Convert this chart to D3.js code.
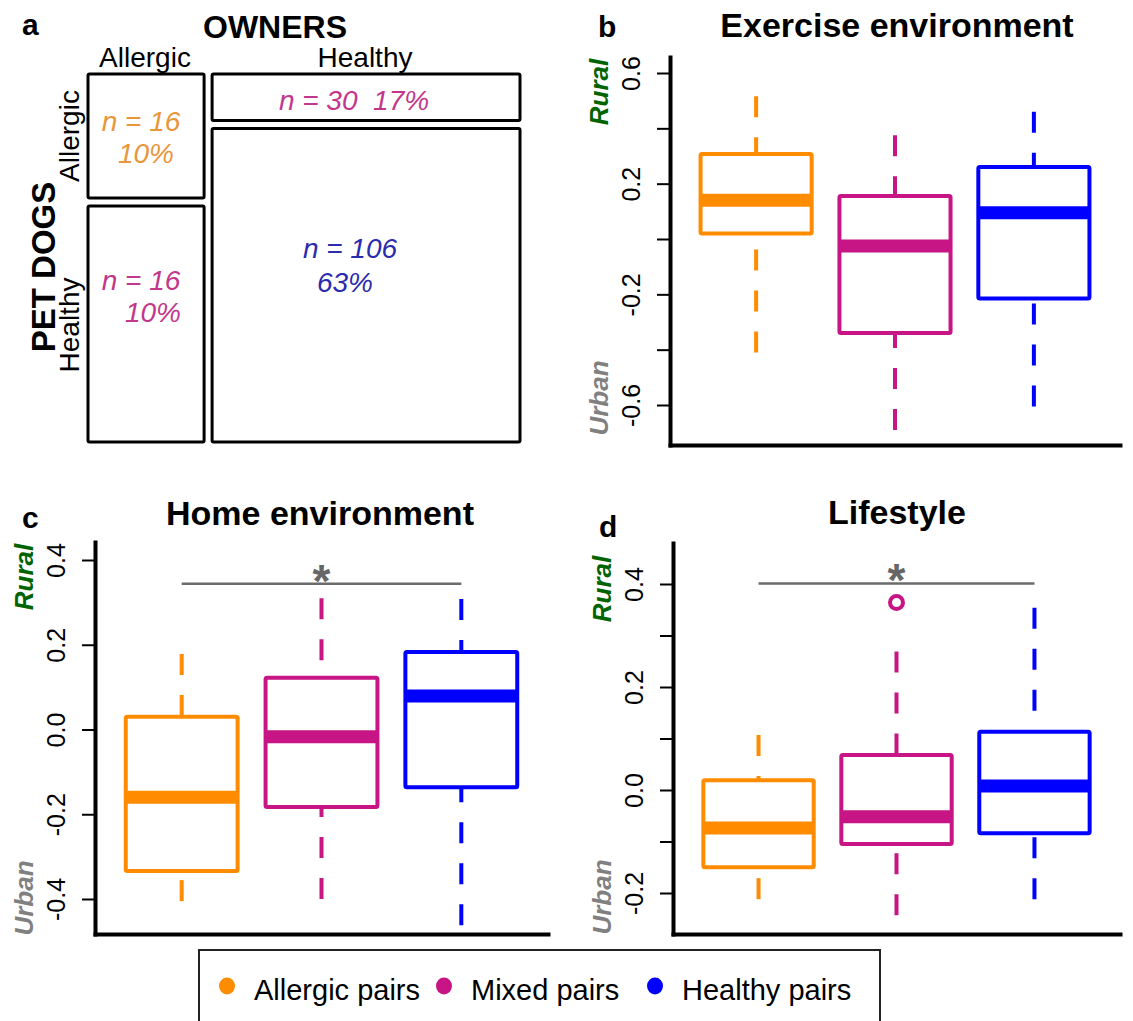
<!DOCTYPE html>
<html lang="en">
<head>
<meta charset="UTF-8">
<title>Pet dogs and owners: environment and lifestyle</title>
<script src="https://d3js.org/d3.v7.min.js"></script>
<style>
  body { margin: 0; background: #fff; }
  svg text { font-family: "Liberation Sans", Arial, sans-serif; }
  .axis .domain { stroke: #000; stroke-width: 4; stroke-linecap: square; }
  .axis .tick line { stroke: #000; stroke-width: 2; }
</style>
</head>
<body>
<div id="chart"></div>
<script>
// ---- data ----
const groups = ["Allergic pairs", "Mixed pairs", "Healthy pairs"];
const groupColors = ["#ff8c00", "#c71585", "#0000ff"];

// panel a: owners x pet dogs
const ownerLevels = ["Allergic", "Healthy"];
const dogLevels = ["Allergic", "Healthy"];
const cellCounts = [16, 16, 30, 106];          // owner/dog: A/A, A/H, H/A, H/H
const cellPercents = ["10%", "10%", "17%", "63%"];

// box stats per group: [lower whisker, q1, median, q3, upper whisker]
const exerciseStats = [
  [-0.41, 0.02, 0.14, 0.307, 0.516],
  [-0.69, -0.34, -0.025, 0.155, 0.375],
  [-0.605, -0.215, 0.095, 0.26, 0.46]
];
const homeStats = [
  [-0.405, -0.334, -0.16, 0.03, 0.178],
  [-0.40, -0.183, -0.017, 0.122, 0.31],
  [-0.462, -0.136, 0.079, 0.183, 0.308]
];
const lifestyleStats = [
  [-0.212, -0.15, -0.074, 0.019, 0.107],
  [-0.243, -0.105, -0.052, 0.068, 0.269],
  [-0.212, -0.084, 0.008, 0.113, 0.354]
];
const lifestyleOutliers = [[], [0.364], []];

// significance bars: [from group, to group, height]
const homeSig = [[1, 3, 0.344]];
const lifestyleSig = [[1, 3, 0.401]];

// ticks
const exerciseTicks = [-0.6, -0.4, -0.2, 0, 0.2, 0.4, 0.6];
const exerciseLabels = [-0.6, -0.2, 0.2, 0.6];
const homeTicks = [-0.4, -0.2, 0, 0.2, 0.4];
const homeLabels = [-0.4, -0.2, 0, 0.2, 0.4];
const lifestyleTicks = [-0.2, -0.1, 0, 0.1, 0.2, 0.3, 0.4];
const lifestyleLabels = [-0.2, 0, 0.2, 0.4];

// ---- drawing ----
const W = 1133, H = 1021;
const svg = d3.select("#chart").append("svg")
  .attr("width", W).attr("height", H);

const fmt = d => (Math.abs(d) < 1e-9 ? 0 : d).toFixed(1);

function boxPanel(cfg) {
  const g = svg.append("g");
  const x = d3.scaleLinear().domain([0.38, 3.62]).range([cfg.left, cfg.right]);
  const yRef = d3.scaleLinear().domain(cfg.refVals).range(cfg.refPx);
  const y = d3.scaleLinear()
    .domain([yRef.invert(cfg.bottom), yRef.invert(cfg.top)])
    .range([cfg.bottom, cfg.top]);

  // axes
  const ya = g.append("g").attr("class", "axis")
    .attr("transform", `translate(${cfg.left},0)`)
    .call(d3.axisLeft(y).tickValues(cfg.ticks).tickSizeInner(13).tickSizeOuter(0)
      .tickFormat(d => cfg.labels.some(v => Math.abs(v - d) < 1e-9) ? fmt(d) : ""));
  ya.selectAll(".tick text")
    .attr("transform", "rotate(-90)")
    .attr("x", 0).attr("y", -30).attr("dy", 0)
    .attr("text-anchor", "middle")
    .style("font-size", "25px").style("font-family", "Liberation Sans, Arial, sans-serif")
    .attr("fill", "#000");

  g.append("g").attr("class", "axis")
    .attr("transform", `translate(0,${cfg.bottom})`)
    .call(d3.axisBottom(x).tickValues([]).tickSizeOuter(0));

  // boxes
  cfg.stats.forEach((s, i) => {
    const c = groupColors[i];
    const cx = x(i + 1), x0 = x(i + 0.6), x1 = x(i + 1.4);
    g.append("line").attr("x1", cx).attr("x2", cx).attr("y1", y(s[0])).attr("y2", y(s[1]))
      .attr("stroke", c).attr("stroke-width", 4).attr("stroke-dasharray", "21,20");
    g.append("line").attr("x1", cx).attr("x2", cx).attr("y1", y(s[4])).attr("y2", y(s[3]))
      .attr("stroke", c).attr("stroke-width", 4).attr("stroke-dasharray", "21,20");
    g.append("rect").attr("x", x0).attr("y", y(s[3]))
      .attr("width", x1 - x0).attr("height", y(s[1]) - y(s[3]))
      .attr("fill", "#fff").attr("stroke", c).attr("stroke-width", 4)
      .attr("rx", 1.5);
    g.append("line").attr("x1", x0).attr("x2", x1).attr("y1", y(s[2])).attr("y2", y(s[2]))
      .attr("stroke", c).attr("stroke-width", 13);
  });

  // outliers
  if (cfg.outliers) {
    cfg.outliers.forEach((vals, i) => {
      g.selectAll(null).data(vals).join("circle")
        .attr("cx", x(i + 1)).attr("cy", d => y(d)).attr("r", 6.5)
        .attr("fill", "none").attr("stroke", groupColors[i]).attr("stroke-width", 4);
    });
  }

  // significance
  if (cfg.sig) {
    cfg.sig.forEach(([a, b, h]) => {
      g.append("line").attr("x1", x(a)).attr("x2", x(b)).attr("y1", y(h)).attr("y2", y(h))
        .attr("stroke", "#6b6b6b").attr("stroke-width", 2.5);
      g.append("text").attr("x", (x(a) + x(b)) / 2).attr("y", y(h) + 13)
        .attr("text-anchor", "middle").style("font-size", "46px").style("font-weight", "bold")
        .attr("fill", "#666").text("*");
    });
  }

  // titles and side labels
  g.append("text").attr("x", cfg.titleX).attr("y", cfg.titleY)
    .attr("text-anchor", "middle").style("font-size", "34px").style("font-weight", "bold")
    .text(cfg.title);
  g.append("text").attr("x", cfg.letter[0]).attr("y", cfg.letter[1])
    .style("font-size", "30px").style("font-weight", "bold").text(cfg.letterText);
  g.append("text").attr("transform", `translate(${cfg.left - 62},${cfg.ruralY}) rotate(-90)`)
    .attr("text-anchor", "middle").style("font-size", "26px").style("font-weight", "bold")
    .style("font-style", "italic").attr("fill", "#006400").text("Rural");
  g.append("text").attr("transform", `translate(${cfg.left - 62},${cfg.urbanY}) rotate(-90)`)
    .attr("text-anchor", "middle").style("font-size", "26px").style("font-weight", "bold")
    .style("font-style", "italic").attr("fill", "#808080").text("Urban");
}

boxPanel({
  left: 670, right: 1120, top: 57, bottom: 445,
  refVals: [-0.6, 0.6], refPx: [405, 73],
  ticks: exerciseTicks, labels: exerciseLabels, stats: exerciseStats,
  title: "Exercise environment", titleX: 897, titleY: 37,
  letterText: "b", letter: [598, 37], ruralY: 92, urbanY: 398
});
boxPanel({
  left: 95, right: 548, top: 542, bottom: 934,
  refVals: [-0.4, 0.4], refPx: [899, 560],
  ticks: homeTicks, labels: homeLabels, stats: homeStats, sig: homeSig,
  title: "Home environment", titleX: 320, titleY: 525,
  letterText: "c", letter: [22, 528], ruralY: 577, urbanY: 898
});
boxPanel({
  left: 673, right: 1120, top: 543, bottom: 934,
  refVals: [-0.2, 0.4], refPx: [893, 584],
  ticks: lifestyleTicks, labels: lifestyleLabels, stats: lifestyleStats,
  outliers: lifestyleOutliers, sig: lifestyleSig,
  title: "Lifestyle", titleX: 897, titleY: 524,
  letterText: "d", letter: [599, 537], ruralY: 589, urbanY: 897
});

// ---- panel a: mosaic ----
const ga = svg.append("g");
const xa = d3.scaleLinear().domain([0, 1]).range([88, 520]);
const yaS = d3.scaleLinear().domain([0, 1]).range([74, 442]);
const colSplit = 0.278, rowSplit = [0.348, 0.137], gap = 8;
const cellColors = ["#e8963a", "#c2378c", "#c2378c", "#2b2bae"];
// label lines per cell, built from counts and percents; anchors [x, y]
const cellAnchors = [
  [[141, 131], [146, 163]],
  [[141, 290], [153, 322]],
  [[354, 110]],
  [[350, 258], [345, 292]]
];
let k = 0;
ownerLevels.forEach((o, oi) => {
  const cx0 = oi === 0 ? xa(0) : xa(colSplit) + gap / 2;
  const cx1 = oi === 0 ? xa(colSplit) - gap / 2 : xa(1);
  dogLevels.forEach((dl, di) => {
    const s = rowSplit[oi];
    const cy0 = di === 0 ? yaS(0) : yaS(s) + gap / 2;
    const cy1 = di === 0 ? yaS(s) - gap / 2 : yaS(1);
    ga.append("rect").attr("x", cx0).attr("y", cy0)
      .attr("width", cx1 - cx0).attr("height", cy1 - cy0)
      .attr("fill", "none").attr("stroke", "#000").attr("stroke-width", 3).attr("rx", 1.5);
    const anchors = cellAnchors[k];
    const lines = anchors.length === 1
      ? [`n = ${cellCounts[k]}  ${cellPercents[k]}`]
      : [`n = ${cellCounts[k]}`, cellPercents[k]];
    lines.forEach((t, li) => {
      ga.append("text").attr("x", anchors[li][0]).attr("y", anchors[li][1])
        .attr("text-anchor", "middle")
        .style("font-size", "28px").style("font-style", "italic")
        .style("white-space", "pre").attr("fill", cellColors[k]).text(t);
    });
    k++;
  });
});
ga.append("text").attr("x", 22).attr("y", 35).style("font-size", "30px").style("font-weight", "bold").text("a");
ga.append("text").attr("x", 275).attr("y", 38).attr("text-anchor", "middle")
  .style("font-size", "32px").style("font-weight", "bold").text("OWNERS");
ga.append("text").attr("x", 145).attr("y", 67).attr("text-anchor", "middle")
  .style("font-size", "28px").text(ownerLevels[0]);
ga.append("text").attr("x", 365).attr("y", 67).attr("text-anchor", "middle")
  .style("font-size", "28px").text(ownerLevels[1]);
ga.append("text").attr("transform", "translate(79,136) rotate(-90)").attr("text-anchor", "middle")
  .style("font-size", "28px").text(dogLevels[0]);
ga.append("text").attr("transform", "translate(79,325) rotate(-90)").attr("text-anchor", "middle")
  .style("font-size", "28px").text(dogLevels[1]);
ga.append("text").attr("transform", "translate(55,267) rotate(-90)").attr("text-anchor", "middle")
  .style("font-size", "33px").style("font-weight", "bold").text("PET DOGS");

// ---- legend ----
const lg = svg.append("g");
lg.append("rect").attr("x", 199).attr("y", 950).attr("width", 681).attr("height", 90)
  .attr("fill", "#fff").attr("stroke", "#222").attr("stroke-width", 2);
const legX = [227, 444, 655];
groups.forEach((name, i) => {
  lg.append("ellipse").attr("cx", legX[i]).attr("cy", 986).attr("rx", 8).attr("ry", 8.5)
    .attr("fill", groupColors[i]);
  lg.append("text").attr("x", legX[i] + 27).attr("y", 1000)
    .style("font-size", "29px").text(name);
});
</script>
</body>
</html>
